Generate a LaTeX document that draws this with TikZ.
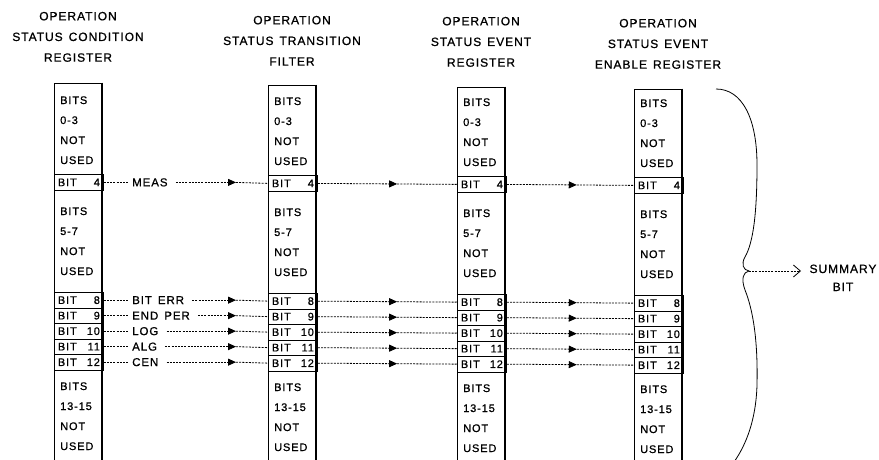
\documentclass[tikz,border=0pt]{standalone}
\usepackage{fontspec}
\setmainfont[LetterSpace=8,FakeBold=0.8]{Liberation Sans}
\usetikzlibrary{arrows.meta,calc}
\newcommand\wsp{\hspace{6pt}}
\begin{document}
\begin{tikzpicture}[x=1pt,y=-1pt,
  frameline/.style={line width=0.8pt},
  heavyline/.style={line width=2.4pt},
  conn/.style={line width=0.8pt, dash pattern=on 2pt off 1.2pt},
  tipd/.style={-{Triangle[length=8pt,width=7pt]}},
  bitrow/.style={draw, line width=0.8pt, anchor=north west, minimum width=49pt,
    minimum height=15.5pt, inner xsep=3.5pt, inner ysep=0pt, font=\fontsize{11}{12}\selectfont},
  boxtxt/.style={anchor=base west, inner sep=0pt, font=\fontsize{11}{12}\selectfont},
  ttl/.style={anchor=base, inner sep=0pt, font=\fontsize{12}{13}\selectfont},
  lab/.style={anchor=west, inner xsep=3pt, inner ysep=0pt, font=\fontsize{11.5}{12}\selectfont}
]
\useasboundingbox (0,0) rectangle (879,460);
\clip (0,0) rectangle (879,460);

% titles
\foreach \i/\cx/\ty/\a/\b/\c in {1/78/20.3/OPERATION/STATUS\wsp CONDITION/REGISTER,
  2/292/24.3/OPERATION/STATUS\wsp TRANSITION/FILTER,
  3/481/25.3/OPERATION/STATUS\wsp EVENT/REGISTER,
  4/658/27.3/OPERATION/STATUS\wsp EVENT/ENABLE\wsp REGISTER}{
  \node[ttl] (t\i-a) at (\cx,\ty) {\a};
  \node[ttl] (t\i-b) at (\cx,\ty+20.7) {\b};
  \node[ttl] (t\i-c) at (\cx,\ty+41.4) {\c};
}

% registers
\foreach \i/\x/\dy in {1/54/-1,2/268/0,3/457/1,4/634/2}{
  \draw[frameline] (\x,465) -- (\x,85+2*\dy) -- (\x+48,85+2*\dy);
  \draw[heavyline] (\x+48,84.7+2*\dy) -- (\x+48,465);
  \foreach \t [count=\n from 0] in {BITS,0-3,NOT,USED}{
    \node[boxtxt] (c\i-p\n) at (\x+6,105+20*\n+\dy) {\t};
  }
  \foreach \t [count=\n from 0] in {BITS,5-7,NOT,USED}{
    \node[boxtxt] (c\i-q\n) at (\x+6,216+20*\n+\dy) {\t};
  }
  \foreach \t [count=\n from 0] in {BITS,13-15,NOT,USED}{
    \node[boxtxt] (c\i-r\n) at (\x+6,391+20*\n+\dy) {\t};
  }
  \node[bitrow, minimum height=16pt] (c\i-4) at (\x,175+\dy) {\makebox[42pt]{BIT\hfill 4}};
  \foreach \k [count=\n from 0] in {8,9,10,11,12}{
    \node[bitrow] (c\i-\k) at (\x,293+15.5*\n+\dy) {\makebox[42pt]{BIT\hfill\k}};
  }
}

% connectors
\foreach \k/\L in {4/MEAS,8/BIT\wsp ERR,9/END\wsp PER,10/LOG,11/ALG,12/CEN}{
  \node[lab] (L\k) at (129,0 |- c1-\k) {\L};
  \coordinate (A\k) at (236,0 |- c1-\k);
  \coordinate (B\k) at ($(c2-\k.east)!0.57!(c3-\k.west)$);
  \coordinate (C\k) at ($(c3-\k.east)!0.55!(c4-\k.west)$);
  \draw[conn] (c1-\k.east) -- (L\k.west);
  \draw[conn,tipd] ([xshift=5pt]L\k.east) -- (A\k);
  \draw[conn] (A\k) -- (c2-\k.west);
  \draw[conn,tipd] (c2-\k.east) -- (B\k);
  \draw[conn] (B\k) -- (c3-\k.west);
  \draw[conn,tipd] (c3-\k.east) -- (C\k);
  \draw[conn] (C\k) -- (c4-\k.west);
}

% brace
\draw[line width=0.8pt] (716,89) .. controls (742,89) and (757,118) .. (757,165)
  .. controls (757,215) and (753,243) .. (745,257)
  .. controls (741,264) and (743,270) .. (749,271)
  .. controls (743,272) and (741,279) .. (745,290)
  .. controls (753,310) and (758,340) .. (757,385)
  .. controls (756,420) and (746,445) .. (734,462);
\coordinate (cusp) at (749,271);
\coordinate (stip) at (801,271);
\draw[conn,-{Straight Barb[length=7pt,width=12pt]}] (cusp) -- (stip);
\node[ttl] (s1) at (843,273) {SUMMARY};
\node[ttl] (s2) at (843,291) {BIT};
\end{tikzpicture}
\end{document}
